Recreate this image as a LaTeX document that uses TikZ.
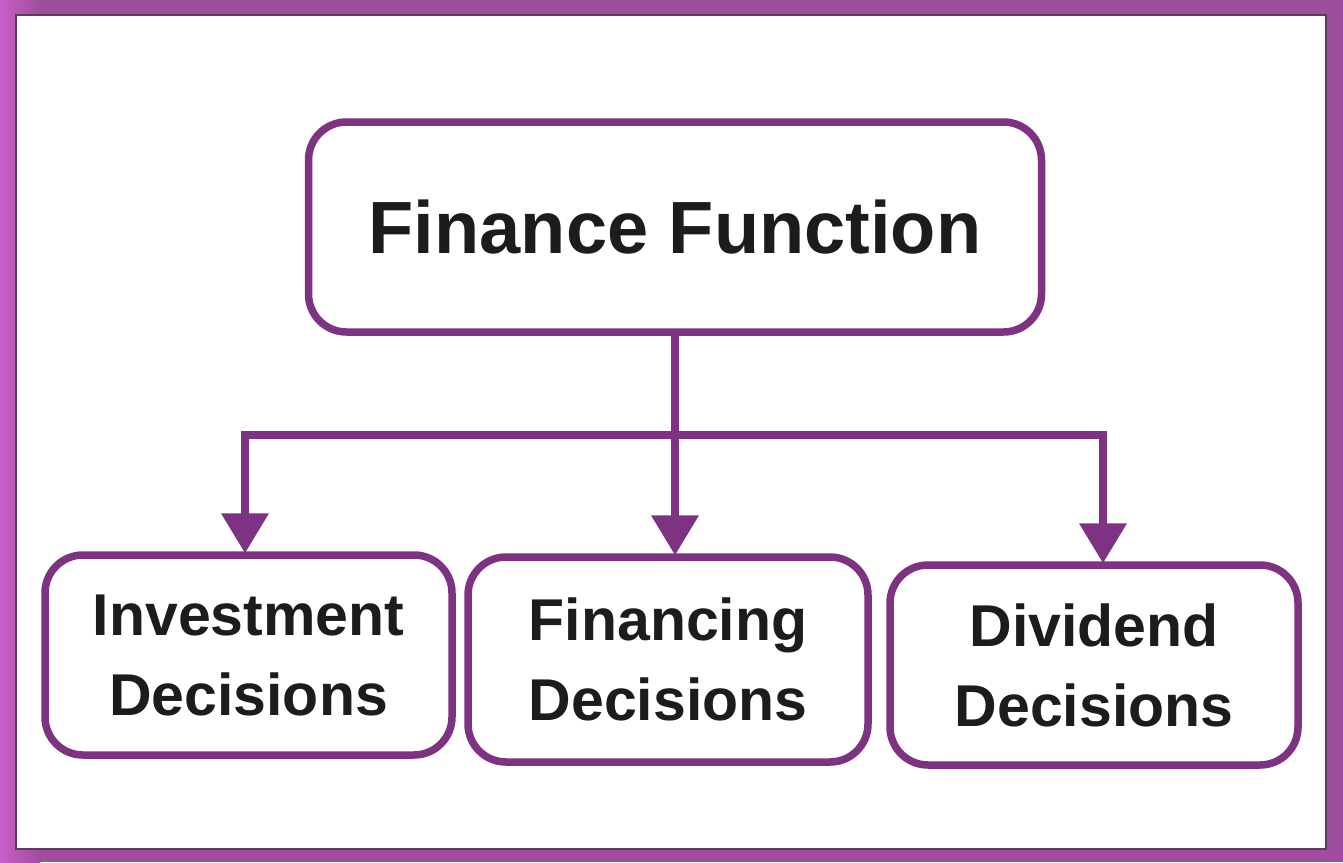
\documentclass[tikz,border=0pt]{standalone}
\usepackage{fontspec}
\setmainfont{Liberation Sans}
\usetikzlibrary{arrows.meta}
\definecolor{boxpurple}{HTML}{7D3381}
\definecolor{framepurple}{HTML}{9E4E9C}
\definecolor{framedark}{HTML}{5E3A5E}
\definecolor{inktext}{HTML}{1C1C1C}
\begin{document}
\begin{tikzpicture}[x=1pt,y=-1pt,
  boxstyle/.style={draw=boxpurple, line width=7.5pt, rounded corners=38pt, fill=white,
    text=inktext, font=\bfseries, align=center, inner sep=0pt},
  conn/.style={draw=boxpurple, line width=7.5pt},
  arr/.style={conn, -{Triangle[width=46pt,length=40pt]}, shorten >=-2pt}]
\useasboundingbox (0,0) rectangle (1343,862);
% frame
\fill[framepurple] (0,0) rectangle (1343,862);
\fill[left color=framepurple!70!magenta!80, right color=framepurple] (0,0) rectangle (40,862);
\fill[white] (16,15) rectangle (1326,849);
\draw[framedark, line width=2pt] (16,15) rectangle (1326,849);
% boxes
\node[boxstyle, minimum width=733pt, minimum height=210pt, font=\fontsize{74}{80}\selectfont\bfseries]
  (ff) at (675,227) {Finance Function};
\node[boxstyle, minimum width=407pt, minimum height=200pt, font=\fontsize{59}{80}\selectfont\bfseries]
  (inv) at (248.5,655) {Investment\\Decisions};
\node[boxstyle, minimum width=400pt, minimum height=205pt, font=\fontsize{59}{80}\selectfont\bfseries]
  (fin) at (668,659.5) {Financing\\Decisions};
\node[boxstyle, minimum width=408pt, minimum height=200pt, font=\fontsize{59}{80}\selectfont\bfseries]
  (div) at (1094,665) {Dividend\\Decisions};
% connectors
\coordinate (j) at (675,435);
\coordinate (jl) at (245,435);
\coordinate (jr) at (1103,435);
\draw[conn] (ff.south -| j) -- (j);
\draw[conn, line cap=rect] (jl) -- (jr);
\draw[arr] (jl) -- (jl |- inv.north);
\draw[arr] (j) -- (j |- fin.north);
\draw[arr] (jr) -- (jr |- div.north);
\end{tikzpicture}
\end{document}
